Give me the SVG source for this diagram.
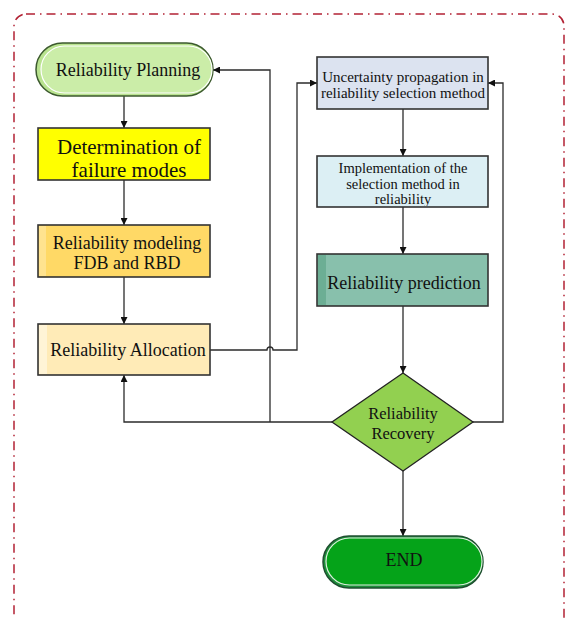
<svg xmlns="http://www.w3.org/2000/svg" width="567" height="619" viewBox="0 0 567 619">
<style>
.conn{fill:none;stroke:#2b2b2b;stroke-width:1.3}
.t{font-family:"Liberation Serif","Times New Roman",serif;fill:#111;text-anchor:middle}
.box{stroke:#333;stroke-width:1.6}
</style>
<defs>
<marker id="ah" viewBox="0 0 10 10" refX="10" refY="5" markerWidth="7" markerHeight="7" markerUnits="userSpaceOnUse" orient="auto"><path d="M0,0 L10,5 L0,10 z" fill="#111"/></marker>
<clipPath id="clipImpl"><rect x="318" y="157" width="169" height="49"/></clipPath>
</defs>
<rect x="14" y="14" width="550" height="625" rx="12" fill="none" stroke="#B22234" stroke-width="1.5" stroke-dasharray="9 5 1.5 5"/>

<g id="connectors">
<path class="conn" d="M124,96 V128" marker-end="url(#ah)"/>
<path class="conn" d="M124,180 V225" marker-end="url(#ah)"/>
<path class="conn" d="M124,277 V324" marker-end="url(#ah)"/>
<path class="conn" d="M210,350 H267 A3,3 0 0 1 273,350 H297 V83 H317" marker-end="url(#ah)"/>
<path class="conn" d="M332,422 H124 V375" marker-end="url(#ah)"/>
<path class="conn" d="M270,422 V70 H213" marker-end="url(#ah)"/>
<path class="conn" d="M473,422 H503 V83 H488" marker-end="url(#ah)"/>
<path class="conn" d="M403,109 V156" marker-end="url(#ah)"/>
<path class="conn" d="M403,207 V254" marker-end="url(#ah)"/>
<path class="conn" d="M403,306 V373" marker-end="url(#ah)"/>
<path class="conn" d="M403,471 V536" marker-end="url(#ah)"/>
</g>

<g id="planning">
<rect x="36" y="43" width="177" height="53" rx="26.5" fill="#B9E38F" stroke="#3C5A2E" stroke-width="1.5"/>
<rect x="41" y="46" width="171" height="47" rx="23.5" fill="#CBEDA8" stroke="#ffffff" stroke-width="1.2"/>
<text class="t" x="128" y="76" font-size="18">Reliability Planning</text>
</g>

<g id="failure">
<rect class="box" x="38" y="128" width="172" height="52" fill="#FFFF00"/>
<text class="t" x="129" y="154" font-size="21">Determination of</text>
<text class="t" x="129" y="177" font-size="21">failure modes</text>
</g>

<g id="modeling">
<rect class="box" x="38" y="225" width="172" height="52" fill="#FFD966"/>
<rect x="39" y="226" width="7" height="50" fill="#FFE38F"/>
<text class="t" x="127" y="249" font-size="18">Reliability modeling</text>
<text class="t" x="127" y="269" font-size="18">FDB and RBD</text>
</g>

<g id="allocation">
<rect class="box" x="38" y="324" width="172" height="51" fill="#FFEBB7"/>
<rect x="39" y="325" width="8" height="49" fill="#FFF4D6"/>
<text class="t" x="128" y="356" font-size="18">Reliability Allocation</text>
</g>

<g id="uncertainty">
<rect class="box" x="317" y="57" width="171" height="52" fill="#DCE3F0"/>
<text class="t" x="403" y="82" font-size="15">Uncertainty propagation in</text>
<text class="t" x="403" y="98" font-size="15">reliability selection method</text>
</g>

<g id="implementation">
<rect class="box" x="317" y="156" width="171" height="51" fill="#DCEFF4"/>
<g clip-path="url(#clipImpl)">
<text class="t" x="403" y="173" font-size="14.5">Implementation of the</text>
<text class="t" x="403" y="189" font-size="14.5">selection method in</text>
<text class="t" x="403" y="204" font-size="14.5">reliability</text>
</g>
</g>

<g id="prediction">
<rect class="box" x="317" y="254" width="171" height="52" fill="#88C0AC"/>
<rect x="318" y="255" width="8" height="50" fill="#6CAE94"/>
<text class="t" x="404" y="289" font-size="18">Reliability prediction</text>
</g>

<g id="recovery">
<polygon points="403,373 473,422 403,471 332,422" fill="#92D050" stroke="#222" stroke-width="1.3"/>
<text class="t" x="403" y="419" font-size="16.5">Reliability</text>
<text class="t" x="403" y="439" font-size="16.5">Recovery</text>
</g>

<g id="end">
<rect x="323" y="536" width="160" height="52" rx="26" fill="#1E8F3A" stroke="#1F4F30" stroke-width="1.5"/>
<rect x="326" y="538" width="156" height="47" rx="23.5" fill="#05A319" stroke="#E0F0E0" stroke-width="1.2"/>
<text class="t" x="404" y="566" font-size="18">END</text>
</g>
</svg>
